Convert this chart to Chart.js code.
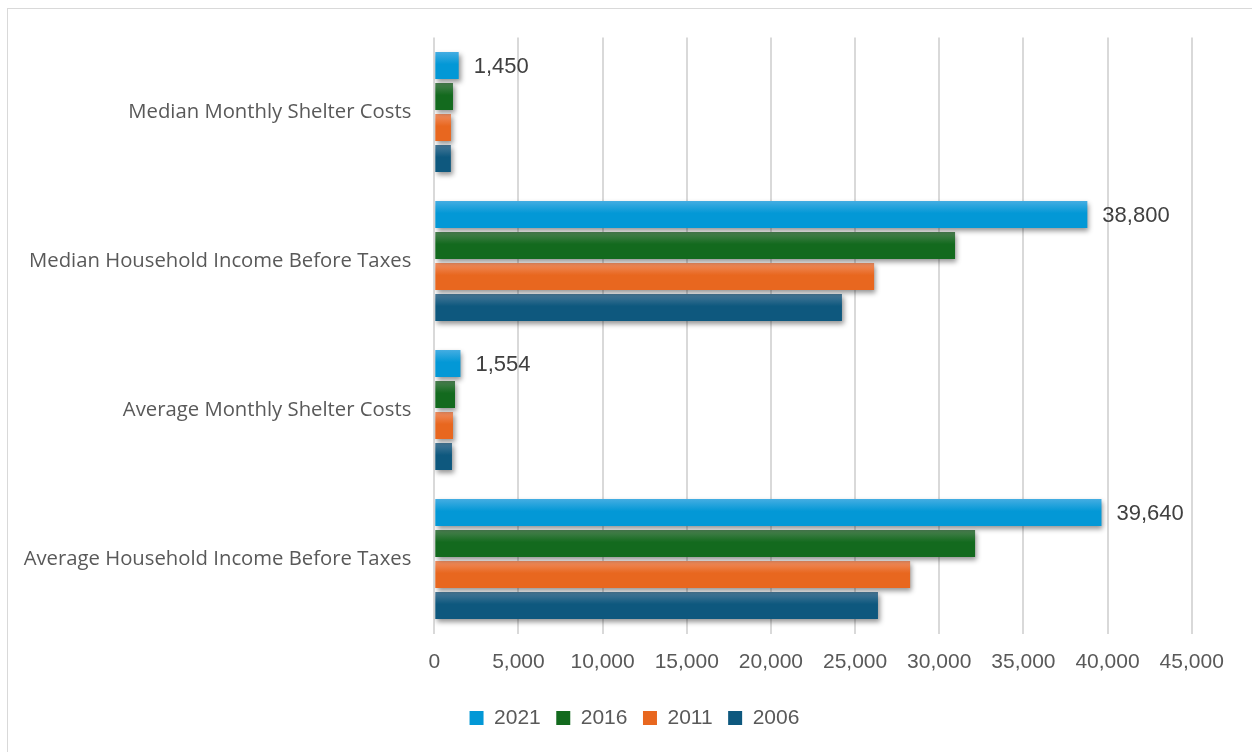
<!DOCTYPE html>
<html>
<head>
<meta charset="utf-8">
<script src="https://cdn.jsdelivr.net/npm/chart.js@4.4.1/dist/chart.umd.min.js"></script>
<style>
  html, body { margin: 0; padding: 0; background: #ffffff; overflow: hidden; }
  #wrap { position: relative; width: 1252px; height: 752px; }
  #frame { position: absolute; left: 7px; top: 8px; width: 1262px; height: 762px;
           border: 1.5px solid #d9d9d9; box-sizing: border-box; pointer-events: none; }
  canvas { position: absolute; left: 0; top: 0; }
</style>
</head>
<body>
<div id="wrap">
  <canvas id="chart" width="1252" height="752"></canvas>
  <div id="frame"></div>
</div>
<script>
// Housing cost and income indicators by census year
const categories = [
  'Median Monthly Shelter Costs',
  'Median Household Income Before Taxes',
  'Average Monthly Shelter Costs',
  'Average Household Income Before Taxes'
];
const years = ['2021', '2016', '2011', '2006'];
const values2021 = [1450, 38800, 1554, 39640];
const values2016 = [1110, 30940, 1230, 32130];
const values2011 = [990, 26130, 1110, 28270];
const values2006 = [985, 24220, 1050, 26360];
const xMin = 0;
const xMax = 45000;
const xStep = 5000;

const seriesValues = [values2021, values2016, values2011, values2006];
// [bottom colour, top highlight, legend swatch]
const seriesColours = [
  ['#0398d6', '#44ade2', '#20a2dc'],
  ['#136a1e', '#4c8252', '#2a7433'],
  ['#e8671f', '#f08f62', '#ec773a'],
  ['#0e587e', '#4a7a99', '#23678b']
];

const CATEGORY_PCT = 0.832;
const BAR_PCT = 0.87;
const LEGEND_SHIFT = 38.6;   // centres the legend under the whole panel
const fmt = v => Number(v).toLocaleString('en-US');

// Vertical gradient per bar, lighter along the top edge
function barFill(idx) {
  const [base, light, swatch] = seriesColours[idx];
  return (ctx) => {
    const chart = ctx.chart;
    const ys = chart.scales && chart.scales.y;
    if (ctx.type !== 'data' || !ys || !ys.height) return swatch;
    const center = ys.getPixelForValue(ctx.dataIndex);
    const catSize = ys.height / chart.data.labels.length * CATEGORY_PCT;
    const n = chart.data.datasets.length;
    const slot = catSize / n;
    const mid = center - catSize / 2 + slot * (ctx.datasetIndex + 0.5);
    const half = slot * BAR_PCT / 2;
    const g = chart.ctx.createLinearGradient(0, mid - half, 0, mid + half);
    g.addColorStop(0, light);
    g.addColorStop(0.45, base);
    g.addColorStop(1, base);
    return g;
  };
}

// Soft drop shadow under the bars
const barShadow = {
  id: 'barShadow',
  beforeDatasetsDraw(chart) {
    const c = chart.ctx;
    c.save();
    c.shadowColor = 'rgba(0,0,0,0.42)';
    c.shadowBlur = 5;
    c.shadowOffsetX = 2;
    c.shadowOffsetY = 3;
  },
  afterDatasetsDraw(chart) {
    chart.ctx.restore();
  }
};

// Value labels at the end of the 2021 bars
const endLabels = {
  id: 'endLabels',
  afterDatasetsDraw(chart) {
    const c = chart.ctx;
    const meta = chart.getDatasetMeta(0);
    const data = chart.data.datasets[0].data;
    c.save();
    c.font = '22px "Liberation Sans", Arial, sans-serif';
    c.fillStyle = '#404040';
    c.textAlign = 'left';
    c.textBaseline = 'middle';
    meta.data.forEach((el, i) => {
      c.fillText(fmt(data[i]), el.x + 15, el.y + 1);
    });
    c.restore();
  }
};

// Move the legend box sideways after layout
const legendOffset = {
  id: 'legendOffset',
  afterLayout(chart) {
    if (chart.legend) {
      chart.legend.left += LEGEND_SHIFT;
      chart.legend.right += LEGEND_SHIFT;
    }
  }
};

const datasets = years.map((y, i) => ({
  label: y,
  data: seriesValues[i],
  backgroundColor: barFill(i),
  borderWidth: 0,
  categoryPercentage: CATEGORY_PCT,
  barPercentage: BAR_PCT
}));

new Chart(document.getElementById('chart'), {
  type: 'bar',
  data: { labels: categories, datasets },
  plugins: [barShadow, endLabels, legendOffset],
  options: {
    indexAxis: 'y',
    responsive: false,
    animation: false,
    devicePixelRatio: 1,
    layout: { padding: { top: 37.5, left: 0, right: 60.3, bottom: 13.5 } },
    scales: {
      x: {
        min: xMin,
        max: xMax,
        ticks: {
          stepSize: xStep,
          padding: 16,
          color: '#595959',
          font: { family: '"Liberation Sans", Arial, sans-serif', size: 21 },
          callback: v => fmt(v)
        },
        grid: { color: '#d9d9d9', lineWidth: 2, drawTicks: false },
        border: { display: false },
        afterFit(scale) { scale.height = 58.5; }
      },
      y: {
        ticks: {
          padding: 23,
          color: '#595959',
          font: { family: '"Open Sans", sans-serif', size: 20.3 }
        },
        grid: { display: false, drawTicks: false },
        border: { display: false },
        afterFit(scale) { scale.width = 434.3; }
      }
    },
    plugins: {
      legend: {
        position: 'bottom',
        labels: {
          boxWidth: 14,
          boxHeight: 14,
          padding: 15.5,
          color: '#595959',
          font: { family: '"Liberation Sans", Arial, sans-serif', size: 21 }
        }
      },
      tooltip: { enabled: false }
    }
  }
});
</script>
</body>
</html>
